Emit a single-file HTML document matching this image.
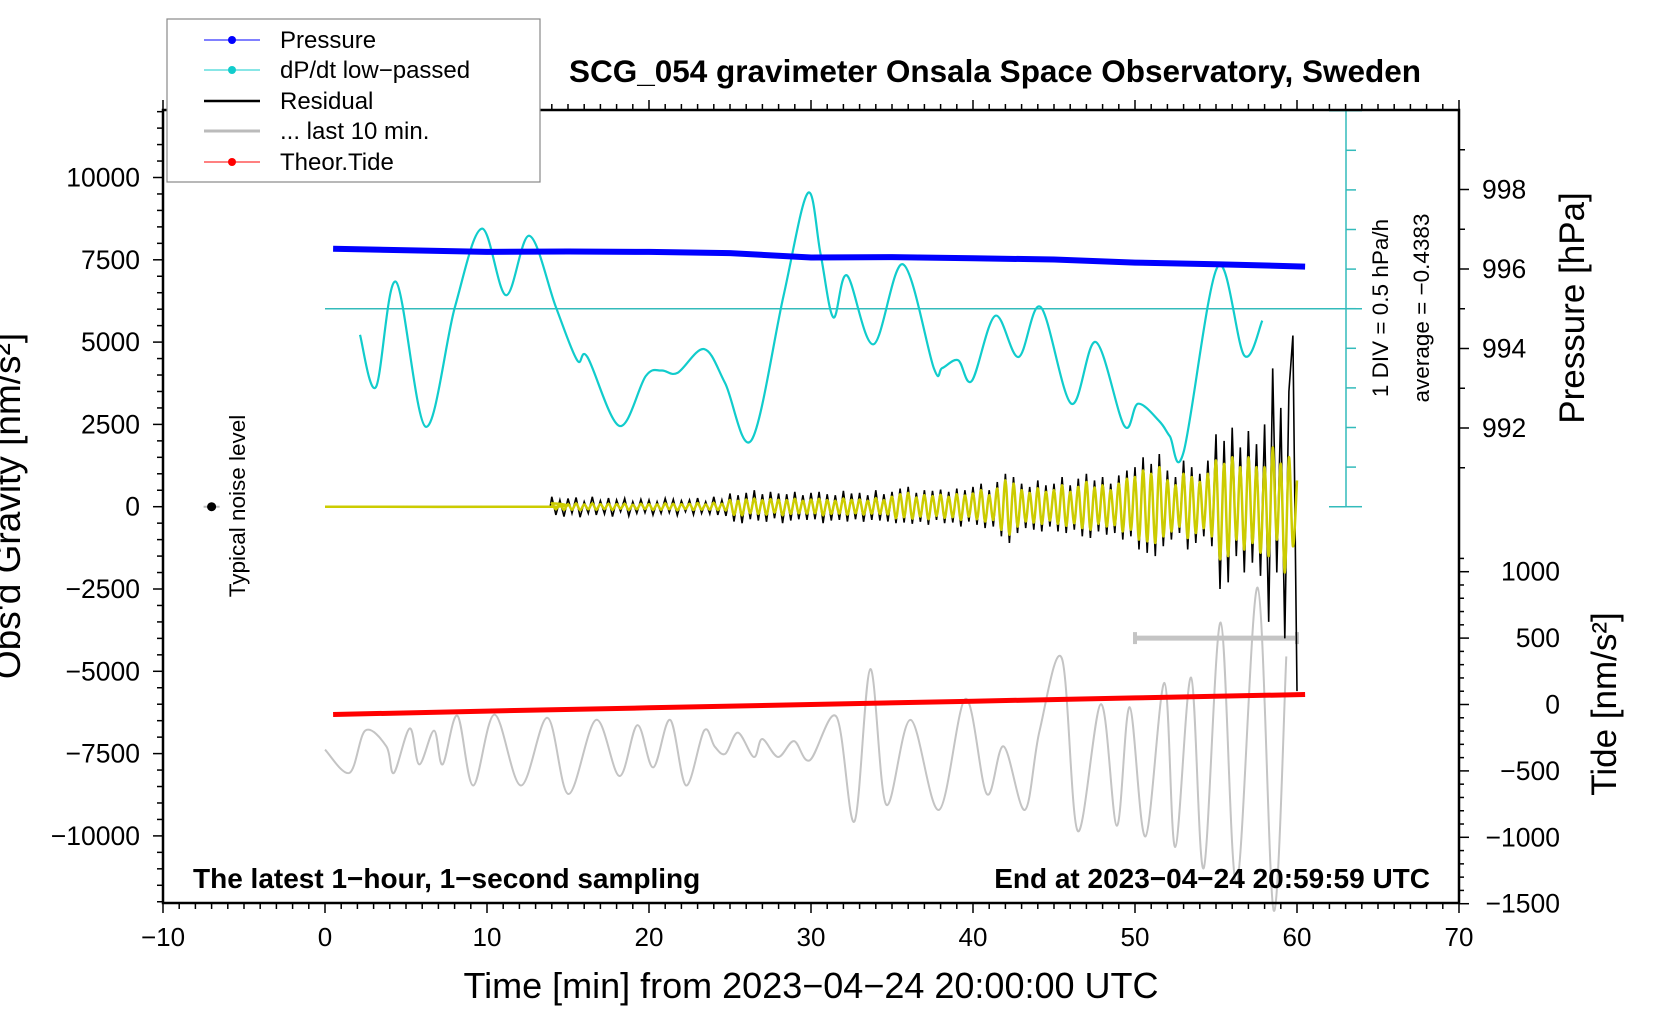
<!DOCTYPE html>
<html><head><meta charset="utf-8">
<style>
html,body{margin:0;padding:0;background:#fff;}
svg{display:block;font-family:"Liberation Sans",Arial,sans-serif;}
</style></head>
<body>
<svg id="chart" width="1660" height="1020" viewBox="0 0 1660 1020" xmlns="http://www.w3.org/2000/svg">
<g id="marks"></g>
<g id="axes"></g>
<text x="995" y="82" font-size="31.5" font-weight="bold" text-anchor="middle">SCG_054 gravimeter Onsala Space Observatory, Sweden</text>
<text x="193" y="888" font-size="28" font-weight="bold">The latest 1−hour, 1−second sampling</text>
<text x="1430" y="888" font-size="28" font-weight="bold" text-anchor="end">End at 2023−04−24 20:59:59 UTC</text>
<text x="811" y="998" font-size="36" text-anchor="middle">Time [min] from 2023−04−24 20:00:00 UTC</text>
<text transform="translate(20,506) rotate(-90)" font-size="37" text-anchor="middle">Obs'd Gravity [nm/s²]</text>
<text transform="translate(1584,308) rotate(-90)" font-size="35" text-anchor="middle">Pressure [hPa]</text>
<text transform="translate(1616,704) rotate(-90)" font-size="35" text-anchor="middle">Tide [nm/s²]</text>
<text transform="translate(1388,308) rotate(-90)" font-size="22.5" text-anchor="middle">1 DIV = 0.5 hPa/h</text>
<text transform="translate(1429,308) rotate(-90)" font-size="22.5" text-anchor="middle">average = −0.4383</text>
<text transform="translate(245,506) rotate(-90)" font-size="22.5" text-anchor="middle">Typical noise level</text>
<g>
<rect x="167" y="19" width="373" height="163" fill="#fff" stroke="#888" stroke-width="1.2"/>
<line x1="204" y1="40" x2="260" y2="40" stroke="#00f" stroke-width="1"/><circle cx="232" cy="40" r="4" fill="#00f"/>
<text x="280" y="48" font-size="24">Pressure</text>
<line x1="204" y1="70" x2="260" y2="70" stroke="#1cc" stroke-width="1"/><circle cx="232" cy="70" r="4" fill="#1cc"/>
<text x="280" y="78" font-size="24">dP/dt low−passed</text>
<line x1="204" y1="101" x2="260" y2="101" stroke="#000" stroke-width="2.5"/>
<text x="280" y="109" font-size="24">Residual</text>
<line x1="204" y1="131" x2="260" y2="131" stroke="#bbb" stroke-width="3"/>
<text x="280" y="139" font-size="24">... last 10 min.</text>
<line x1="204" y1="162" x2="260" y2="162" stroke="#f00" stroke-width="1"/><circle cx="232" cy="162" r="4" fill="#f00"/>
<text x="280" y="170" font-size="24">Theor.Tide</text>
</g>
</svg>
<script>
// ---- data ----
const pressTimes = [0.5,5,10,15,20,25,30,35,40,45,50,55,60.5];
const pressValues = [996.51,996.47,996.43,996.44,996.43,996.40,996.29,996.30,996.27,996.24,996.16,996.12,996.06];
const dpdtTimes = [2.16,3.14,4.38,6.21,8.02,9.67,11.17,12.62,14.25,15.56,16.2,18.17,19.8,20.78,21.76,23.4,24.7,26.33,28.3,29.8,30.59,31.38,32.22,33.85,35.68,37.58,38.1,39.08,39.93,41.37,42.81,44.18,46.07,47.58,49.34,50.19,51.5,52.15,53.0,55.1,56.74,57.86];
const dpdtValues = [-0.33,-0.99,0.34,-1.49,0.02,1.01,0.17,0.92,0.02,-0.65,-0.61,-1.48,-0.85,-0.78,-0.81,-0.51,-0.94,-1.66,0.16,1.46,0.69,-0.11,0.42,-0.45,0.56,-0.75,-0.75,-0.65,-0.91,-0.09,-0.61,0.02,-1.2,-0.42,-1.48,-1.2,-1.42,-1.61,-1.81,0.53,-0.59,-0.15];
const residStart = 14.0, residStep = 0.25;
const residValues = [300,-250,200,-300,250,-200,280,-320,150,-200,300,-250,180,-220,260,-300,200,-150,250,-280,150,-200,220,-180,
200,-250,150,-200,250,-180,220,-260,180,-150,200,-240,260,-200,150,-220,300,-250,200,-280,
400,-450,350,-500,420,-380,500,-420,380,-460,450,-350,400,-500,380,-420,450,-380,350,-400,
420,-380,450,-500,380,-420,350,-400,480,-450,400,-380,420,-460,350,-400,500,-420,380,-450,
450,-500,550,-480,600,-520,420,-460,500,-550,480,-400,520,-500,450,-480,550,-600,500,-450,
600,-550,700,-650,500,-600,750,-900,1000,-1100,900,-800,700,-650,600,-700,800,-750,650,-600,
700,-750,900,-800,650,-700,850,-900,1000,-950,800,-750,900,-850,700,-800,950,-1000,1100,-900,
1200,-1300,1500,-1400,1300,-1500,1600,-1200,1100,-1000,900,-800,1400,-1300,1200,-1100,1000,-900,1400,-1200,
2200,-2500,2000,-2300,2400,-1500,1800,-2000,2300,-1700,1900,-2100,
2500,-3500,4200,-2000,3000,-4000,3500,5200,-5600];
const filtValues = [100,-80,90,-100,80,-90,100,-110,70,-80,100,-90,80,-70,90,-100,80,-60,90,-100,60,-80,90,-70,
80,-100,70,-90,100,-80,90,-110,80,-70,90,-100,110,-90,70,-90,120,-100,90,-110,
200,-250,180,-260,220,-200,250,-220,200,-240,230,-180,210,-260,200,-220,240,-200,180,-210,
220,-200,240,-260,200,-220,180,-210,250,-240,210,-200,220,-240,180,-210,260,-220,200,-230,
300,-350,380,-320,420,-360,280,-300,350,-380,320,-280,360,-340,300,-320,380,-400,340,-300,
400,-380,500,-450,350,-400,550,-700,800,-850,700,-600,500,-450,420,-480,560,-520,450,-420,
500,-520,650,-580,450,-500,600,-650,750,-700,580,-520,650,-600,500,-560,700,-750,850,-700,
900,-1000,1100,-1050,1000,-1100,1200,-900,800,-750,650,-600,1000,-950,900,-800,750,-650,1000,-900,
1400,-1600,1300,-1500,1500,-1000,1200,-1300,1500,-1100,1200,-1400,
1200,-1500,1800,-1000,1300,-2000,1500,-1200,800];
const grayTimes = [0,1.51,2.49,3.79,4.25,5.23,5.82,6.73,7.26,8.17,9.15,10.46,12.09,13.73,15.03,16.73,18.17,19.28,20.26,21.31,22.29,23.4,24.05,24.71,25.49,26.47,26.99,27.97,28.95,29.93,31.57,32.68,33.66,34.64,36.14,37.9,39.54,40.85,41.89,43.2,44.11,45.49,46.47,47.9,48.88,49.67,50.65,51.82,52.48,53.46,54.24,55.29,56.27,57.57,58.56,59.34];
const grayValues = [-7377,-8085,-6800,-7280,-8085,-6734,-7828,-6800,-7828,-6350,-8470,-6316,-8470,-6413,-8728,-6477,-8181,-6638,-7920,-6477,-8470,-6800,-7281,-7506,-6863,-7602,-7056,-7602,-7120,-7699,-6380,-9564,-4933,-9050,-6477,-9210,-5834,-8728,-7281,-9210,-6800,-4612,-9854,-5995,-9693,-6091,-10014,-5352,-10336,-5190,-10980,-3518,-11463,-2457,-12266,-4547];
const tideTimes = [0.5,10,20,30,40,50,60.5];
const tideValues = [-75,-50,-25,0,25,50,75];
const xTicks = [-10,0,10,20,30,40,50,60,70];
const gTicks = [-10000,-7500,-5000,-2500,0,2500,5000,7500,10000];
const pTicks = [992,994,996,998];
const tTicks = [-1500,-1000,-500,0,500,1000];
const noiseLevel = [-7, 0];

// ---- scales ----
const X = m => 325 + m*16.2;
const Yg = v => 506.7 - v*0.03292;
const Yp = p => 269 - (p-996)*39.75;
const Yt = t => 704.5 - t*0.1328;
const Yd = v => 308.7 - v*79.2;
const NS = 'http://www.w3.org/2000/svg';
const marks = document.getElementById('marks');
const axes = document.getElementById('axes');
function mk(tag, attrs, parent){
  const e = document.createElementNS(NS, tag);
  for (const k in attrs) e.setAttribute(k, attrs[k]);
  parent.appendChild(e); return e;
}
function smooth(pts){
  let d = 'M'+pts[0][0].toFixed(1)+','+pts[0][1].toFixed(1);
  for (let i=0;i<pts.length-1;i++){
    const p0=pts[i-1]||pts[i], p1=pts[i], p2=pts[i+1], p3=pts[i+2]||p2;
    const c1=[p1[0]+(p2[0]-p0[0])/6, p1[1]+(p2[1]-p0[1])/6];
    const c2=[p2[0]-(p3[0]-p1[0])/6, p2[1]-(p3[1]-p1[1])/6];
    d+=' C'+c1[0].toFixed(1)+','+c1[1].toFixed(1)+' '+c2[0].toFixed(1)+','+c2[1].toFixed(1)+' '+p2[0].toFixed(1)+','+p2[1].toFixed(1);
  }
  return d;
}

let e;
e = mk('line',{x1:X(0),x2:1362,y1:Yd(0),y2:Yd(0),stroke:'#3bb',"stroke-width":1.5},marks);


const bar = mk('g',{},marks);


mk('line',{x1:1346,x2:1346,y1:Yd(2.5),y2:Yd(-2.5),stroke:'#3bb',"stroke-width":1.5},bar);
for (let k=-5;k<=5;k++){
  const big = (k===5||k===-5);
  mk('line',{x1:1346,x2:big?1362:1356,y1:Yd(k*0.5),y2:Yd(k*0.5),stroke:'#3bb',"stroke-width":1.5},bar);
  if (big) mk('line',{x1:1329,x2:1346,y1:Yd(k*0.5),y2:Yd(k*0.5),stroke:'#3bb',"stroke-width":1.5},bar);
}

e = mk('path',{d:smooth(grayTimes.map((t,i)=>[X(t),Yg(grayValues[i])])),fill:'none',stroke:'#c4c4c4',"stroke-width":2},marks);


e = mk('g',{},marks);


mk('line',{x1:X(50),x2:X(60),y1:Yt(500),y2:Yt(500),stroke:'#c4c4c4',"stroke-width":5},e);
mk('line',{x1:X(50),x2:X(50),y1:Yt(500)-6,y2:Yt(500)+6,stroke:'#c4c4c4',"stroke-width":4},e);
mk('line',{x1:X(60),x2:X(60),y1:Yt(500)-6,y2:Yt(500)+6,stroke:'#c4c4c4',"stroke-width":4},e);

e = mk('path',{d:smooth(dpdtTimes.map((t,i)=>[X(t),Yd(dpdtValues[i])])),fill:'none',stroke:'#1cc',"stroke-width":2.2},marks);



e = mk('polyline',{points:pressTimes.map((t,i)=>X(t).toFixed(1)+','+Yp(pressValues[i]).toFixed(1)).join(' '),fill:'none',stroke:'#00f',"stroke-width":6},marks);



const rPts = [[X(0),Yg(0)],[X(residStart-0.1),Yg(0)]].concat(residValues.map((v,i)=>[X(residStart+i*residStep),Yg(v)]));
e = mk('polyline',{points:rPts.map(p=>p[0].toFixed(1)+','+p[1].toFixed(1)).join(' '),fill:'none',stroke:'#000',"stroke-width":1.6},marks);


const fPts = [[X(0),Yg(0)],[X(residStart-0.1),Yg(0)]].concat(filtValues.map((v,i)=>[X(residStart+i*residStep),Yg(v)]));
e = mk('path',{d:smooth(fPts),fill:'none',stroke:'#cc0',"stroke-width":2.5},marks);



e = mk('polyline',{points:tideTimes.map((t,i)=>X(t).toFixed(1)+','+Yt(tideValues[i]).toFixed(1)).join(' '),fill:'none',stroke:'#f00',"stroke-width":5},marks);



e = mk('g',{},marks);


mk('line',{x1:X(noiseLevel[0])-8,x2:X(noiseLevel[0])+8,y1:Yg(noiseLevel[1]),y2:Yg(noiseLevel[1]),stroke:'#bbb',"stroke-width":2},e);
mk('circle',{cx:X(noiseLevel[0]),cy:Yg(noiseLevel[1]),r:4.5,fill:'#000'},e);

// ---- axes ----
const L=163,R=1459,T=110,B=903;
e = mk('rect',{x:L,y:T,width:R-L,height:B-T,fill:'none',stroke:'#000',"stroke-width":2.5},axes);


const tk = {stroke:'#000',"stroke-width":1.5};
for (let m=-10;m<=70;m++){
  const len = m%10===0?10:6;
  mk('line',Object.assign({x1:X(m),x2:X(m),y1:B,y2:B+len},tk),axes);
  mk('line',Object.assign({x1:X(m),x2:X(m),y1:T,y2:T-len},tk),axes);
}
xTicks.forEach(m=>{
  const t = mk('text',{x:X(m),y:946,"font-size":26,"text-anchor":"middle"},axes);
  t.textContent = String(m).replace('-','−');
  
  
});
for (let v=-12000; v<=12000; v+=500){
  const y=Yg(v); if (y<T-12||y>B) continue;
  mk('line',Object.assign({x1:L,x2:L-(v%2500===0?10:6),y1:y,y2:y},tk),axes);
}
gTicks.forEach(v=>{
  const t = mk('text',{x:140,y:Yg(v)+9,"font-size":26.5,"text-anchor":"end"},axes);
  t.textContent = String(v).replace('-','−');
  
  
});
for (let p=991; p<=999; p++){
  mk('line',Object.assign({x1:R,x2:R+(p%2===0?10:6),y1:Yp(p),y2:Yp(p)},tk),axes);
}
pTicks.forEach(p=>{
  const t = mk('text',{x:1482,y:Yp(p)+9,"font-size":26.5},axes);
  t.textContent = p;
  
  
});
for (let v=-1500; v<=1100; v+=100){
  mk('line',Object.assign({x1:R,x2:R+(v%500===0?10:5),y1:Yt(v),y2:Yt(v)},tk),axes);
}
tTicks.forEach(v=>{
  const t = mk('text',{x:1560,y:Yt(v)+9,"font-size":26.5,"text-anchor":"end"},axes);
  t.textContent = String(v).replace('-','−');
  
  
});
</script>
</body></html>
